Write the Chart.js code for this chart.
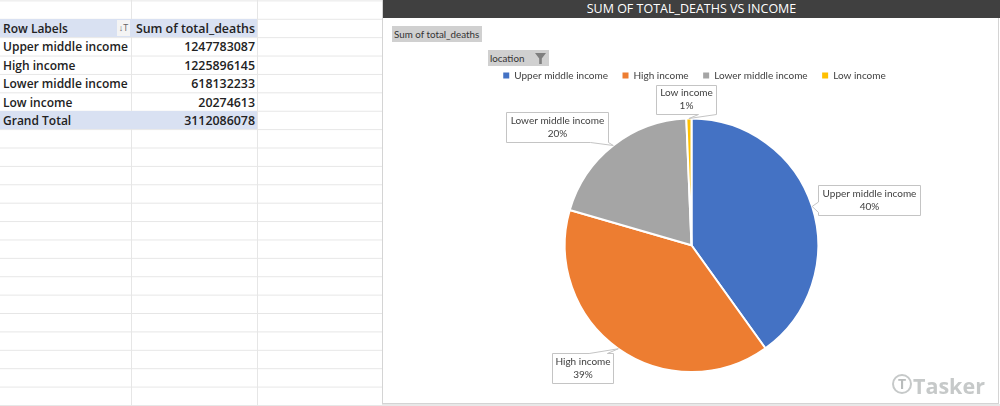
<!DOCTYPE html>
<html>
<head>
<meta charset="utf-8">
<title>Sum of total_deaths vs income</title>
<script src="https://cdn.jsdelivr.net/npm/chart.js@4"></script>
<style>
  body { margin: 0; width: 1000px; height: 406px; overflow: hidden; background: #fff; font-family: "Open Sans", sans-serif; position: relative; }
  #sheet { position: absolute; left: 0; top: 0; width: 382px; height: 406px; overflow: hidden;
    background-image: linear-gradient(#e6e6e6 1px, transparent 1px); background-size: 100% 18.4px; background-position: 0 0.4px; }
  #sheet .col { position: absolute; top: 0; bottom: 0; width: 1px; background: #e6e6e6; }
  #pivot { position: absolute; left: 0; top: 19px; width: 257px; font-size: 12px; font-weight: 600; color: #222; }
  #pivot .row { display: flex; height: 18.4px; line-height: 19.4px; white-space: nowrap; }
  #pivot .row div { box-sizing: border-box; padding: 0 2px 0 3px; overflow: hidden; }
  #pivot .row div:first-child { width: 131px; }
  #pivot .row div:last-child { width: 126px; text-align: right; font-size: 12.4px; }
  #pivot .band { background: #d9e1f2; }
  #sort { position: absolute; left: 117px; top: 20px; width: 13px; height: 16px; background: #f4f4f4; color: #666; font-size: 9px; line-height: 16px; text-align: center; }
  #panel { position: absolute; left: 382px; top: 0; width: 617px; height: 404px; border: 1px solid #d4d4d4; border-top: 0; box-sizing: border-box; background: #fff; }
  #bottom { position: absolute; left: 382px; top: 404px; width: 618px; height: 2px; background: #e8e8e8; }
  #header { position: absolute; left: 383px; top: 0; width: 617px; height: 18px; background: #404040; color: #fff; font-size: 12.5px; line-height: 18px; text-align: center; }
  canvas { position: absolute; left: 0; top: 0; }
  .button { position: absolute; background: #d0d0d0; color: #333; font-family: Lato, sans-serif; font-size: 9.8px; line-height: 16px; height: 16px; white-space: nowrap; box-sizing: border-box; }
  #funnel { position: absolute; left: 535px; top: 53px; width: 11px; height: 11px; background: #7f7f7f; clip-path: polygon(0 0, 100% 0, 62% 50%, 62% 100%, 38% 100%, 38% 50%); }
  #mark { position: absolute; left: 913px; top: 372px; color: #c6c9c9; font-weight: 700; font-size: 21.5px; line-height: 28px; }
  #logo { position: absolute; left: 892px; top: 374px; width: 20px; height: 20px; border: 2px solid #c6c9c9; border-radius: 50%; box-sizing: border-box; color: #b9bcbc; font-size: 14px; font-weight: 700; line-height: 16px; text-align: center; }
</style>
</head>
<body>
<div id="sheet">
  <div class="col" style="left:131px"></div>
  <div class="col" style="left:257px"></div>
  <div id="pivot"></div>
  <div id="sort">↓T</div>
</div>
<div id="panel"></div>
<div id="bottom"></div>
<div id="header"></div>
<canvas id="IncomeChart" width="1000" height="406"></canvas>
<div class="button" style="left:392px;top:26px;width:90px;padding-left:2px">Sum of total_deaths</div>
<div class="button" style="left:488px;top:50px;width:61px;padding-left:2px">location</div>
<div id="funnel"></div>
<div id="logo">T</div>
<div id="mark">Tasker</div>

<script>
const chartTitle = 'SUM OF TOTAL_DEATHS VS INCOME';
const Income = ['Upper middle income', 'High income', 'Lower middle income', 'Low income'];
const TotalDeaths = [1247783087, 1225896145, 618132233, 20274613];
const GrandTotal = 3112086078;
const pivotHeaders = ['Row Labels', 'Sum of total_deaths'];
const pivotFooter = 'Grand Total';
const IncomeColors = ['#4472C4', '#ED7D31', '#A5A5A5', '#FFC000'];

document.getElementById('header').textContent = chartTitle;

// pivot table on the left
const pivot = document.getElementById('pivot');
function addRow(a, b, band) {
  const row = document.createElement('div');
  row.className = band ? 'row band' : 'row';
  [a, b].forEach(function (v) {
    const cell = document.createElement('div');
    cell.textContent = v;
    row.appendChild(cell);
  });
  pivot.appendChild(row);
}
addRow(pivotHeaders[0], pivotHeaders[1], true);
Income.forEach(function (name, i) { addRow(name, TotalDeaths[i], false); });
addRow(pivotFooter, GrandTotal, true);

// room between the legend and the pie, legend also sits a bit right of the pie centre
const legendGap = {
  id: 'legendGap',
  beforeInit(chart) {
    const fit = chart.legend.fit;
    chart.legend.fit = function () {
      fit.call(this);
      this.height += 27;
    };
  },
  afterLayout(chart) {
    chart.legend.left += 3;
    chart.legend.right += 3;
  }
};

// Excel style callouts, tip sits on the middle of each slice edge
const callouts = {
  id: 'callouts',
  afterDatasetsDraw(chart, args, opts) {
    const ctx = chart.ctx;
    const arcs = chart.getDatasetMeta(0).data;
    ctx.save();
    ctx.font = '10px Lato';
    ctx.textAlign = 'center';
    ctx.textBaseline = 'middle';
    arcs.forEach(function (arc, i) {
      const b = opts.boxes[i];
      const mid = (arc.startAngle + arc.endAngle) / 2;
      const tx = arc.x + Math.cos(mid) * arc.outerRadius;
      const ty = arc.y + Math.sin(mid) * arc.outerRadius;
      const r = b.x + b.w, bt = b.y + b.h;
      ctx.beginPath();
      ctx.moveTo(b.x, b.y);
      if (b.side === 'top') { ctx.lineTo(b.x + b.w * 0.6, b.y); ctx.lineTo(tx, ty); ctx.lineTo(b.x + b.w * 0.9, b.y); }
      ctx.lineTo(r, b.y);
      ctx.lineTo(r, bt);
      if (b.side === 'bottom') { ctx.lineTo(r, bt); ctx.lineTo(tx, ty); ctx.lineTo(r - Math.min(b.w * 0.3, 18), bt); }
      ctx.lineTo(b.x, bt);
      if (b.side === 'left') { ctx.lineTo(b.x, b.y + b.h * 0.9); ctx.lineTo(tx, ty); ctx.lineTo(b.x, b.y + b.h * 0.55); }
      ctx.closePath();
      ctx.fillStyle = '#fff';
      ctx.strokeStyle = '#c4c4c4';
      ctx.lineWidth = 1;
      ctx.fill();
      ctx.stroke();
      ctx.fillStyle = '#404040';
      const cx = b.x + b.w / 2, cy = b.y + b.h / 2;
      ctx.fillText(Income[i], cx, cy - 7);
      ctx.fillText(Math.round(TotalDeaths[i] / GrandTotal * 100) + '%', cx, cy + 6);
    });
    ctx.restore();
  }
};

const IncomeData = {
  labels: Income,
  datasets: [{
    label: 'Sum of total_deaths',
    data: TotalDeaths,
    backgroundColor: IncomeColors,
    borderColor: '#fff',
    borderWidth: 2
  }]
};

const Pie_defaultLabels = Chart.overrides.pie.plugins.legend.labels.generateLabels;

const IncomeConfig = {
  type: 'pie',
  data: IncomeData,
  plugins: [legendGap, callouts],
  options: {
    responsive: false,
    animation: false,
    layout: { padding: { left: 383, top: 56, bottom: 33 } },
    plugins: {
      tooltip: { enabled: false },
      legend: {
        position: 'top',
        labels: {
          boxWidth: 6,
          boxHeight: 6,
          padding: 14.5,
          color: '#404040',
          font: { family: 'Lato', size: 10 },
          generateLabels(chart) {
            return Pie_defaultLabels(chart).map(function (l) {
              l.lineWidth = 0;
              return l;
            });
          }
        }
      },
      callouts: {
        boxes: [
          { x: 818.5, y: 185.5, w: 102, h: 30, side: 'left' },
          { x: 552.5, y: 353.5, w: 61, h: 30, side: 'top' },
          { x: 506.5, y: 112.5, w: 102, h: 30, side: 'bottom' },
          { x: 656.5, y: 85.5, w: 60, h: 29, side: 'bottom' }
        ]
      }
    }
  }
};

const IncomeChart = new Chart(document.getElementById('IncomeChart'), IncomeConfig);
</script>
</body>
</html>
